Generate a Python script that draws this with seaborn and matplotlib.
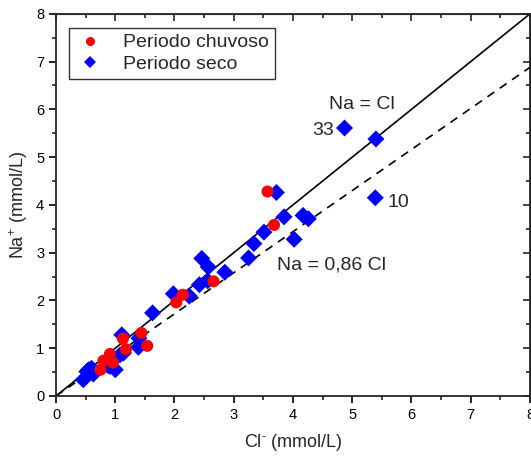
"""Na+ vs Cl- scatter, rainy vs dry period."""

import matplotlib
matplotlib.use("Agg")
import matplotlib.pyplot as plt
import numpy as np
import pandas as pd
import seaborn as sns

# --- data ------------------------------------------------------------------
chuvoso_cl = [0.75, 0.80, 0.91, 0.96, 1.13, 1.18, 1.44, 1.54, 2.03, 2.14, 2.66, 3.57, 3.68]
chuvoso_na = [0.55, 0.74, 0.88, 0.70, 1.20, 0.98, 1.32, 1.05, 1.96, 2.12, 2.40, 4.28, 3.58]

seco_cl = [0.46, 0.52, 0.60, 0.63, 0.55, 0.87, 0.91, 1.00, 1.08, 1.14, 1.11, 1.39, 1.40,
           1.63, 1.98, 2.25, 2.42, 2.56, 2.46, 2.57, 2.85, 3.25, 3.34, 3.51, 3.72,
           3.85, 4.02, 4.17, 4.26, 4.87, 5.40, 5.39]
seco_na = [0.34, 0.51, 0.58, 0.46, 0.55, 0.64, 0.62, 0.55, 0.86, 0.90, 1.28, 1.02, 1.21,
           1.74, 2.14, 2.09, 2.33, 2.41, 2.88, 2.70, 2.59, 2.89, 3.19, 3.43, 4.26,
           3.75, 3.28, 3.78, 3.71, 5.61, 5.38, 4.15]

period_labels = ["Periodo chuvoso", "Periodo seco"]
ref_x = np.array([0.0, 8.0])
ratio_equal = 1.0
ratio_low = 0.86

df = pd.concat([
    pd.DataFrame({"cl": chuvoso_cl, "na": chuvoso_na, "periodo": period_labels[0]}),
    pd.DataFrame({"cl": seco_cl, "na": seco_na, "periodo": period_labels[1]}),
], ignore_index=True)
df = df.iloc[::-1]  # dry first, rainy drawn on top

sns.set_style("ticks")
plt.rcParams["font.family"] = ["Liberation Sans", "DejaVu Sans"]
plt.rcParams["mathtext.fontset"] = "custom"
plt.rcParams["mathtext.rm"] = "Liberation Sans"
plt.rcParams["mathtext.it"] = "Liberation Sans"

fig = plt.figure(figsize=(5.31, 4.61), dpi=100)
ax = fig.add_axes([0.1055, 0.141, 0.8925, 0.829])

ax.plot(ref_x, ratio_equal * ref_x, color="black", lw=1.2, zorder=1)
ax.plot(ref_x, ratio_low * ref_x, color="black", lw=1.2, ls=(0, (5, 4)), zorder=1)

sns.scatterplot(
    data=df, x="cl", y="na", hue="periodo", style="periodo",
    hue_order=period_labels, style_order=period_labels,
    palette={period_labels[0]: "#ff0000", period_labels[1]: "#0000ff"},
    markers={period_labels[0]: "o", period_labels[1]: "D"},
    s=75, linewidth=0, ax=ax, zorder=3,
)

ax.set_xlim(0, 8)
ax.set_ylim(0, 8)
ax.set_xticks(range(0, 9))
ax.set_yticks(range(0, 9))
ax.set_xticks(np.arange(0.5, 8, 1), minor=True)
ax.set_yticks(np.arange(0.5, 8, 1), minor=True)
ax.tick_params(which="major", direction="out", length=5, width=1.2, labelsize=10.5, colors="black")
ax.tick_params(which="minor", direction="out", length=3, width=1.2)
for side in ["top", "right", "bottom", "left"]:
    ax.spines[side].set_visible(True)
    ax.spines[side].set_linewidth(1.3)

# mirrored inward ticks on top and right
top = ax.secondary_xaxis("top")
top.set_xticks(range(0, 9))
top.set_xticks(np.arange(0.5, 8, 1), minor=True)
top.tick_params(which="major", direction="in", length=5, width=1.2, labeltop=False)
top.tick_params(which="minor", direction="in", length=3, width=1.2)
right = ax.secondary_yaxis("right")
right.set_yticks(range(0, 9))
right.set_yticks(np.arange(0.5, 8, 1), minor=True)
right.tick_params(which="major", direction="in", length=5, width=1.2, labelright=False)
right.tick_params(which="minor", direction="in", length=3, width=1.2)

ax.set_xlabel("Cl$^{\\text{-}}$ (mmol/L)", fontsize=13, labelpad=7)
ax.set_ylabel("Na$^{+}$ (mmol/L)", fontsize=13, labelpad=4)

ax.text(4.60, 6.11, "Na = Cl", fontsize=14, va="center")
ax.text(3.73, 2.75, "Na = 0,86 Cl", fontsize=14, va="center")
ax.text(4.70, 5.55, "33", fontsize=14, ha="right", va="center")
ax.text(5.59, 4.05, "10", fontsize=14, ha="left", va="center")

leg = ax.legend(
    loc="upper left", bbox_to_anchor=(0.027, 0.963), borderaxespad=0,
    fontsize=14, frameon=True, fancybox=False, edgecolor="black",
    handletextpad=0.9, borderpad=0.3, labelspacing=0.2, markerscale=0.75,
    handlelength=1.6,
)
leg.get_frame().set_linewidth(1.0)

fig.savefig("out.png", dpi=100)
plt.close(fig)
